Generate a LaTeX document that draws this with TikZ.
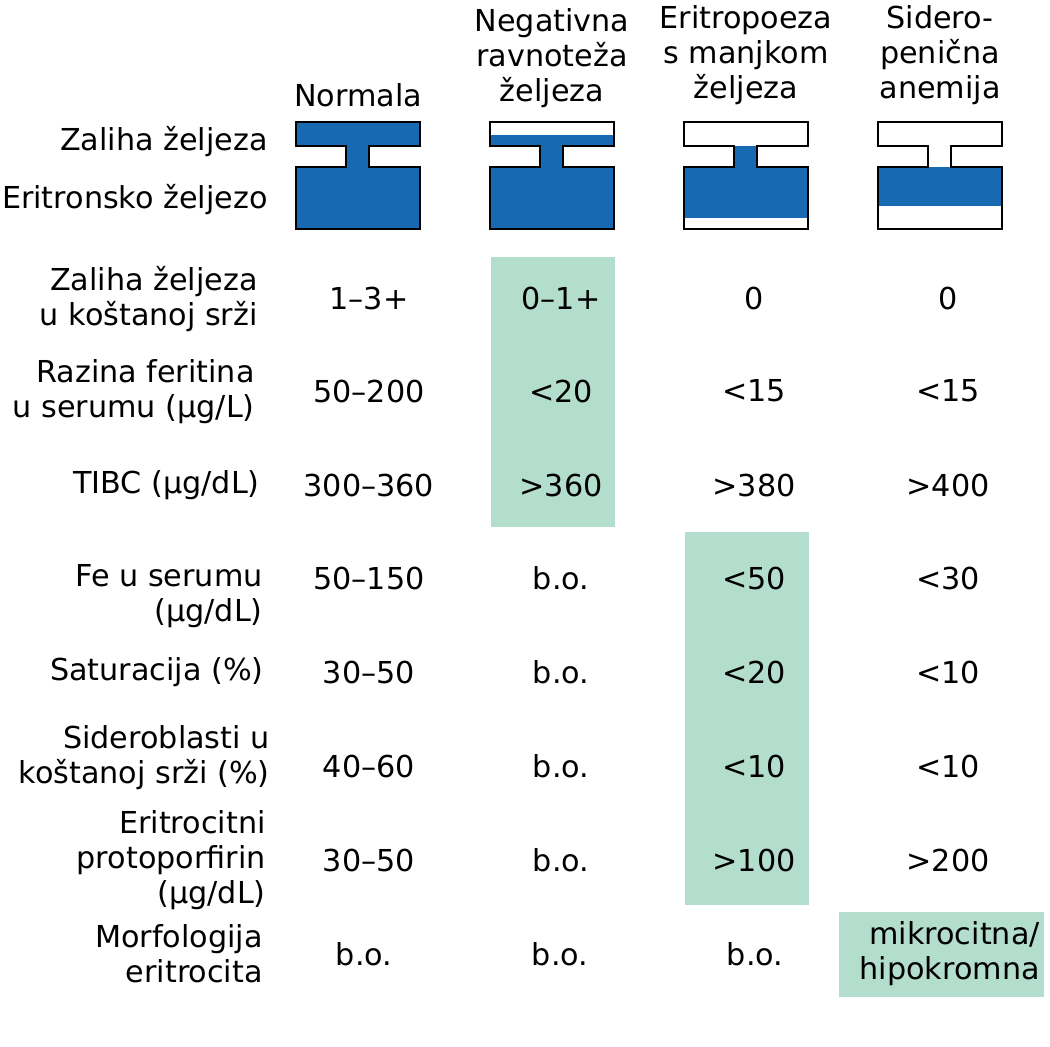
\documentclass[tikz,border=0pt]{standalone}
\usepackage{fontspec}
\setmainfont{DejaVu Sans}
\usepackage{xcolor}
\usepackage{tikz}
\usetikzlibrary{positioning}
\definecolor{ironblue}{RGB}{23,105,178}
\definecolor{markgreen}{RGB}{179,221,204}
\newcommand{\ironshape}[1]{(#1,122) -- (#1+124,122) -- (#1+124,146) -- (#1+73,146) -- (#1+73,167) -- (#1+124,167) -- (#1+124,229) -- (#1,229) -- (#1,167) -- (#1+50,167) -- (#1+50,146) -- (#1,146) -- cycle}

\begin{document}
\begin{tikzpicture}[x=0.02cm,y=-0.02cm,
		every node/.style={font=\fontsize{17.2}{20}\selectfont,inner sep=0pt},
		rowlabel/.style={anchor=east,align=right},
		colhead/.style={align=center},
		cellval/.style={align=center}]
		\useasboundingbox (0,0) rectangle (1050,1046);
		
		% green marks
		\fill[markgreen] (491,257) rectangle (615,527);
		\fill[markgreen] (685,532) rectangle (809,905);
		\fill[markgreen] (839,912) rectangle (1044,997);
		
		% column heads
		\node[colhead] (head1) at (358,95) {Normala};
		\node[colhead] (head2) at (552,58) {Negativna\\ravnoteža\\željeza};
		\node[colhead] (head3) at (746,55) {Eritropoeza\\s manjkom\\željeza};
		\node[colhead] (head4) at (940,55) {Sidero-\\penična\\anemija};
		
		% iron icons - left x / fill top / fill bottom
		\node[rowlabel] (store) at (268,142) {Zaliha željeza};
		\node[rowlabel] (erythro) at (268,200) {Eritronsko željezo};
		\foreach \x/\a/\b in {296/122/229,490/135/229,684/146/218,878/167/206} {
			\begin{scope}
				\clip \ironshape{\x};
				\fill[ironblue] (\x,\a) rectangle (\x+124,\b);
			\end{scope}
			\draw[line width=1.2pt] \ironshape{\x};
		}
		
		% row labels
		\node[rowlabel] (lab1) at (258,299) {Zaliha željeza\\u koštanoj srži};
		\node[rowlabel] (lab2) at (255,392) {Razina feritina\\u serumu (µg/L)};
		\node[rowlabel] (lab3) at (260,485) {TIBC (µg/dL)};
		\node[rowlabel] (lab4) at (263,596) {Fe u serumu\\(µg/dL)};
		\node[rowlabel] (lab5) at (264,672) {Saturacija (\%)};
		\node[rowlabel] (lab6) at (270,758) {Sideroblasti u\hspace{4pt}\\koštanoj srži (\%)};
		\node[rowlabel] (lab7) at (266,860) {Eritrocitni\hspace{2pt}\\protoporfirin\\(µg/dL)};
		\node[rowlabel] (lab8) at (263,954) {Morfologija\\eritrocita};
		
		% values - y / four columns
		\foreach \y/\a/\b/\c/\d [count=\r] in {
			298/1–3+/0–1+/0/0,
			391/50–200/<20/<15/<15,
			485/300–360/>360/>380/>400,
			578/50–150/b.o./<50/<30,
			672/30–50/b.o./<20/<10,
			766/40–60/b.o./<10/<10,
			860/30–50/b.o./>100/>200} {
			\node[cellval] (val\r-1) at (369,\y) {\a};
			\node[cellval] (val\r-2) at (561,\y) {\b};
			\node[cellval] (val\r-3) at (754,\y) {\c};
			\node[cellval] (val\r-4) at (948,\y) {\d};
		}
		\node[cellval] (val8-1) at (364,954) {b.o.};
		\node[cellval] (val8-2) at (560,954) {b.o.};
		\node[cellval] (val8-3) at (755,954) {b.o.};
		\node[rowlabel] (val8-4) at (1040,954) {mikrocitna/\\hipokromna\hspace{4.5pt}};
	\end{tikzpicture}
\end{document}
